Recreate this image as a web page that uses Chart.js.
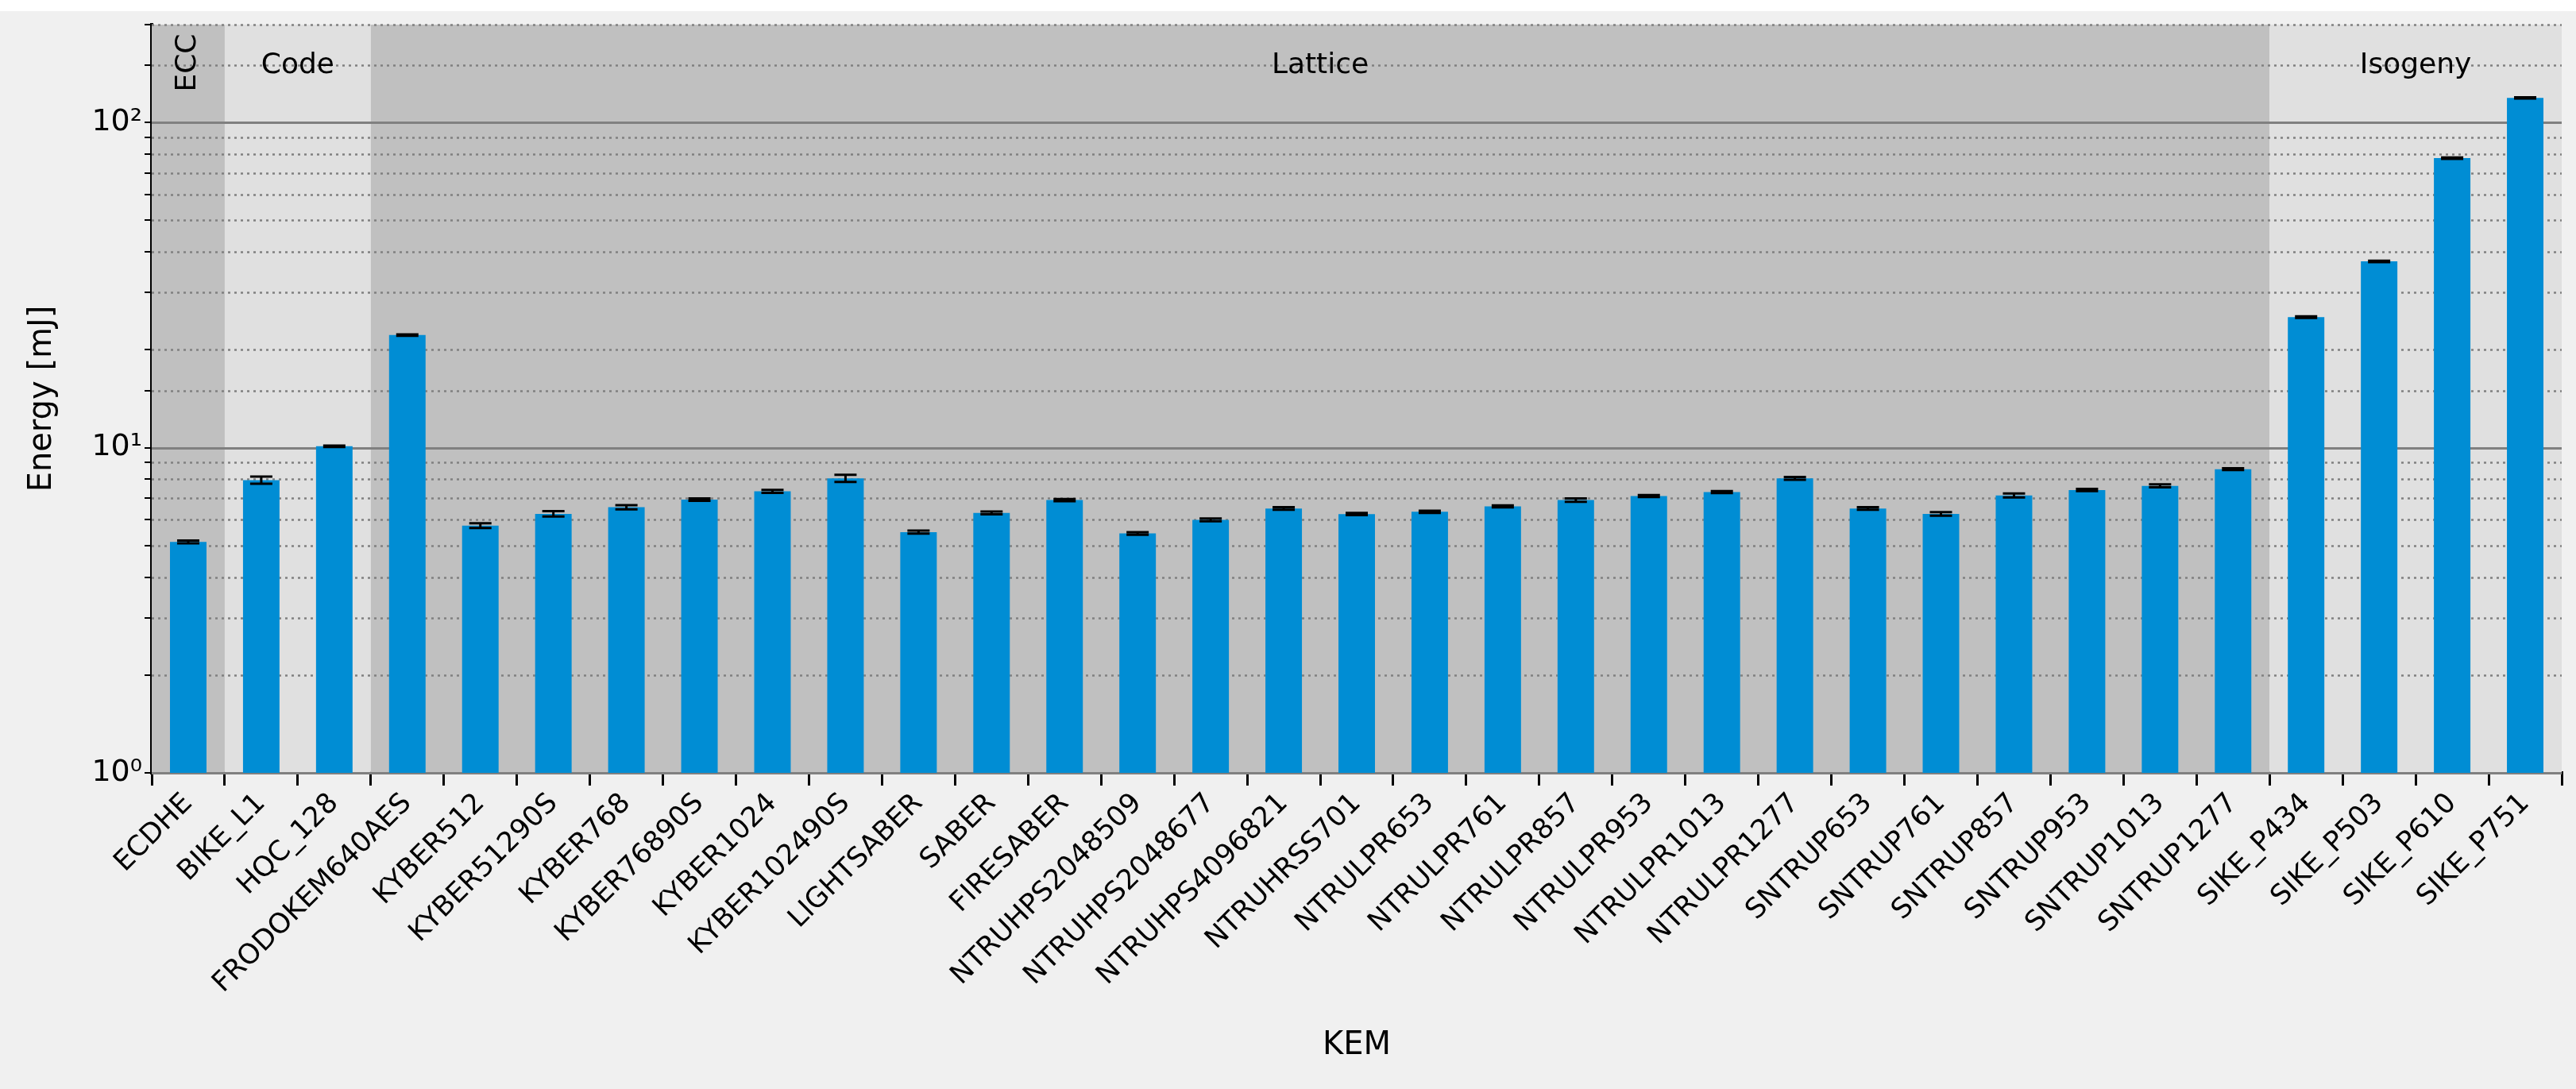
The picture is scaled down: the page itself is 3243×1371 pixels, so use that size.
<!DOCTYPE html>
<html>
<head>
<meta charset="utf-8">
<script src="https://cdn.jsdelivr.net/npm/chart.js@4"></script>
<style>
  html, body { margin: 0; padding: 0; background: #ffffff; }
  #wrap { width: 3243px; height: 1371px; }
</style>
</head>
<body>
<div id="wrap"><canvas id="energy"></canvas></div>
<script>
"use strict";

// Data
var kems = ["ECDHE", "BIKE_L1", "HQC_128", "FRODOKEM640AES", "KYBER512", "KYBER51290S",
    "KYBER768", "KYBER76890S", "KYBER1024", "KYBER102490S", "LIGHTSABER", "SABER",
    "FIRESABER", "NTRUHPS2048509", "NTRUHPS2048677", "NTRUHPS4096821", "NTRUHRSS701",
    "NTRULPR653", "NTRULPR761", "NTRULPR857", "NTRULPR953", "NTRULPR1013", "NTRULPR1277",
    "SNTRUP653", "SNTRUP761", "SNTRUP857", "SNTRUP953", "SNTRUP1013", "SNTRUP1277",
    "SIKE_P434", "SIKE_P503", "SIKE_P610", "SIKE_P751"];
var energy = [5.13, 7.95, 10.1, 22.2, 5.76, 6.26, 6.56, 6.92, 7.34, 8.05, 5.5, 6.3,
    6.9, 5.45, 6.0, 6.5, 6.25, 6.35, 6.6, 6.9, 7.1, 7.3, 8.05,
    6.5, 6.26, 7.13, 7.41, 7.63, 8.59, 25.2, 37.4, 77.7, 119];
var energyErr = [0.05, 0.2, 0.05, 0.1, 0.1, 0.12, 0.1, 0.06, 0.08, 0.2, 0.06, 0.06,
    0.05, 0.05, 0.06, 0.06, 0.05, 0.05, 0.05, 0.08, 0.05, 0.05, 0.08,
    0.06, 0.08, 0.1, 0.06, 0.08, 0.05, 0.15, 0.2, 0.4, 0.5];
// Groups: label, first index, last index
var groupNames = ["ECC", "Code", "Lattice", "Isogeny"];
var groupStart = [0, 1, 3, 29];
var groupEnd = [0, 2, 28, 32];
var yTickLabels = { 1: "10\u2070", 10: "10\u00b9", 100: "10\u00b2" };

var FONT = "'DejaVu Sans', sans-serif";

// Shaded family regions, grid, labels and error bars
var regions = {
    id: "regions",
    beforeDatasetsDraw: function (chart) {
        var c = chart.ctx, a = chart.chartArea, x = chart.scales.x, y = chart.scales.y;
        c.save();
        groupNames.forEach(function (name, g) {
            var l = Math.max(a.left, x.getPixelForValue(groupStart[g] - 0.5));
            var r = Math.min(a.right, x.getPixelForValue(groupEnd[g] + 0.5));
            c.fillStyle = g % 2 === 0 ? "#c0c0c0" : "#e0e0e0";
            c.fillRect(l, a.top, r - l, a.bottom - a.top);
        });
        y.ticks.forEach(function (t) {
            var py = Math.round(y.getPixelForValue(t.value)) + 0.5;
            var major = yTickLabels[t.value] !== undefined;
            c.beginPath();
            c.strokeStyle = "#808080";
            c.lineWidth = major ? 3 : 2.5;
            c.setLineDash(major ? [] : [3, 5]);
            c.moveTo(a.left, py);
            c.lineTo(a.right, py);
            c.stroke();
        });
        c.setLineDash([]);
        c.fillStyle = "#000";
        c.font = "36px " + FONT;
        c.textAlign = "center";
        c.textBaseline = "middle";
        groupNames.forEach(function (name, g) {
            var l = Math.max(a.left, x.getPixelForValue(groupStart[g] - 0.5));
            var r = Math.min(a.right, x.getPixelForValue(groupEnd[g] + 0.5));
            var cx = (l + r) / 2;
            if (g === 0) {
                c.save();
                c.translate(cx, a.top + 48);
                c.rotate(-Math.PI / 2);
                c.fillText(name, 0, 0);
                c.restore();
            } else {
                c.fillText(name, cx, a.top + 52);
            }
        });
        c.restore();
    },
    afterDatasetsDraw: function (chart) {
        var c = chart.ctx, x = chart.scales.x, y = chart.scales.y;
        c.save();
        c.strokeStyle = "#000";
        c.lineWidth = 3;
        energy.forEach(function (v, i) {
            var px = x.getPixelForValue(i);
            var top = y.getPixelForValue(v + energyErr[i]);
            var bot = y.getPixelForValue(v - energyErr[i]);
            c.beginPath();
            c.moveTo(px, top); c.lineTo(px, bot);
            c.moveTo(px - 14, top); c.lineTo(px + 14, top);
            c.moveTo(px - 14, bot); c.lineTo(px + 14, bot);
            c.stroke();
        });
        c.restore();
    }
};

var background = {
    id: "background",
    beforeDraw: function (chart) {
        var c = chart.ctx;
        c.save();
        c.fillStyle = "#f0f0f0";
        c.fillRect(0, 14, chart.width, chart.height - 14);
        c.restore();
    }
};

var ctx = document.getElementById("energy").getContext("2d");
var energyChart = new Chart(ctx, {
    type: "bar",
    data: {
        labels: kems,
        datasets: [{
            label: "Energy",
            data: energy,
            backgroundColor: "#008dd4",
            barPercentage: 0.5,
            categoryPercentage: 1.0
        }]
    },
    options: {
        responsive: true,
        maintainAspectRatio: false,
        animation: false,
        devicePixelRatio: 1,
        layout: { padding: { top: 31, right: 18, left: 0, bottom: 10 } },
        plugins: { legend: { display: false }, tooltip: { enabled: false } },
        scales: {
            x: {
                offset: true,
                afterFit: function (s) { s.height = 388; },
                grid: { display: true, drawOnChartArea: false, color: "#000", lineWidth: 3, tickLength: 16 },
                border: { color: "#000", width: 4 },
                ticks: { color: "#000", font: { family: FONT, size: 35 }, maxRotation: 45, minRotation: 45, autoSkip: false, padding: 2 },
                title: { display: true, text: "KEM", color: "#000", font: { family: FONT, size: 40 }, padding: { top: 10, bottom: 20 } }
            },
            y: {
                type: "logarithmic",
                min: 1,
                max: 200,
                afterFit: function (s) { s.width = 191; },
                grid: { display: true, drawOnChartArea: false, color: "#000", lineWidth: 2,
                    tickLength: function (c) { return yTickLabels[c.tick && c.tick.value] ? 16 : 9; } },
                border: { color: "#000", width: 4 },
                ticks: {
                    color: "#000", font: { family: FONT, size: 38 },
                    autoSkip: false,
                    callback: function (v) { return yTickLabels[v] || ""; }
                },
                title: { display: true, text: "Energy [mJ]", color: "#000", font: { family: FONT, size: 40 }, padding: { top: 30, bottom: 12 } }
            }
        }
    },
    plugins: [background, regions]
});
</script>
</body>
</html>
